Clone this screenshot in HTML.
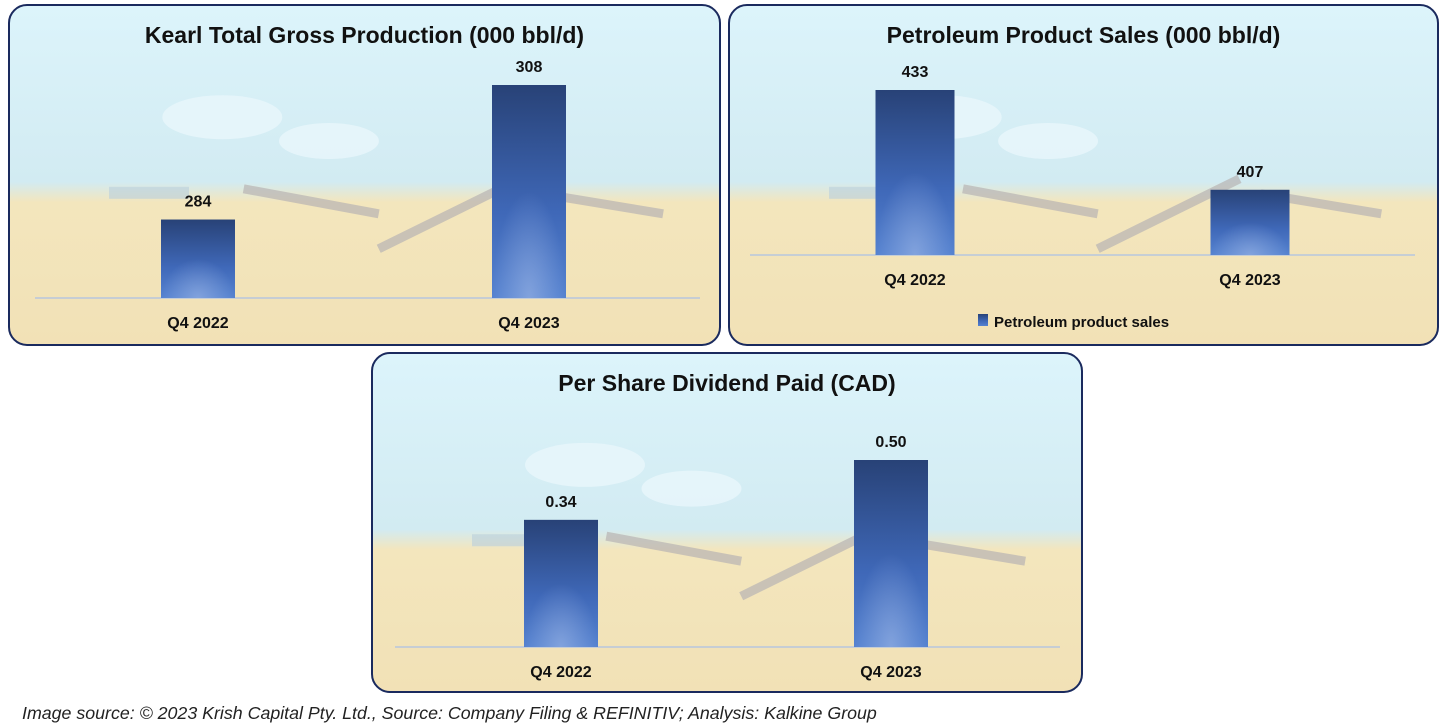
<!DOCTYPE html>
<html><head><meta charset="utf-8"><style>
body{margin:0;width:1445px;height:728px;background:#fff;position:relative;overflow:hidden;font-family:"Liberation Sans",Arial,sans-serif}
svg{position:absolute;left:0;top:0}
.foot{position:absolute;left:22px;top:703px;font-style:italic;font-size:17.8px;color:#222}
</style></head><body>
<svg id="chart" width="1445" height="700">
<defs>
<linearGradient id="bg" x1="0" y1="0" x2="0" y2="1">
<stop offset="0" stop-color="#dcf4fb"/><stop offset="0.52" stop-color="#d2ebf2"/><stop offset="0.58" stop-color="#f3e6bd"/><stop offset="1" stop-color="#f2e1b6"/></linearGradient>
<linearGradient id="bar" x1="0" y1="0" x2="0" y2="1">
<stop offset="0" stop-color="#284277"/><stop offset="0.6" stop-color="#3f68b8"/><stop offset="1" stop-color="#5582d0"/></linearGradient>
<radialGradient id="glow" cx="0.5" cy="1" r="0.5"><stop offset="0" stop-color="#9fb8e6" stop-opacity="0.6"/><stop offset="1" stop-color="#9fb8e6" stop-opacity="0"/></radialGradient>
</defs>
<g id="panels"></g>
</svg>
<div class="foot">Image source: © 2023 Krish Capital Pty. Ltd., Source: Company Filing &amp; REFINITIV; Analysis: Kalkine Group</div>
<script>
const categories = ["Q4 2022","Q4 2023"];
const kearlValues = [284,308];
const kearlLabels = ["284","308"];
const salesValues = [433,407];
const salesLabels = ["433","407"];
const dividendValues = [0.34,0.50];
const dividendLabels = ["0.34","0.50"];

const NS="http://www.w3.org/2000/svg";
const root=document.getElementById('panels');
function mk(tag,attrs,parent){const e=document.createElementNS(NS,tag);for(const k in attrs)e.setAttribute(k,attrs[k]);(parent||root).appendChild(e);return e;}
function panel(cfg){
  const g=mk('g',{});
  
  
  const r=mk('rect',{x:cfg.x,y:cfg.y,width:cfg.w,height:cfg.h,rx:18,fill:'url(#bg)',stroke:'#1a2a5e','stroke-width':2},g);
  
  
  const hz=cfg.y+cfg.h*0.57;
  mk('rect',{x:cfg.x+100,y:hz-12,width:80,height:12,fill:'#b9cfdc',opacity:0.6},g);
  mk('ellipse',{cx:cfg.x+cfg.w*0.3,cy:cfg.y+cfg.h*0.33,rx:60,ry:22,fill:'#e8f6fb',opacity:0.8},g);
  mk('ellipse',{cx:cfg.x+cfg.w*0.45,cy:cfg.y+cfg.h*0.4,rx:50,ry:18,fill:'#e8f6fb',opacity:0.8},g);
  mk('line',{x1:cfg.x+cfg.w*0.33,y1:hz-10,x2:cfg.x+cfg.w*0.52,y2:hz+15,stroke:'#b8b4b4','stroke-width':9,opacity:0.7},g);
  mk('line',{x1:cfg.x+cfg.w*0.52,y1:hz+50,x2:cfg.x+cfg.w*0.72,y2:hz-20,stroke:'#b8b4b4','stroke-width':9,opacity:0.7},g);
  mk('line',{x1:cfg.x+cfg.w*0.75,y1:hz-5,x2:cfg.x+cfg.w*0.92,y2:hz+15,stroke:'#b8b4b4','stroke-width':9,opacity:0.7},g);
  const t=mk('text',{x:cfg.x+cfg.w/2,y:cfg.y+38,'text-anchor':'middle','font-size':23,'font-weight':'bold',fill:'#111'},g);
  t.textContent=cfg.title;
  
  
  const yScale=v=>cfg.base-(v-cfg.min)/(cfg.max-cfg.min)*(cfg.base-cfg.top);
  const ax=mk('line',{x1:cfg.ax1,x2:cfg.ax2,y1:cfg.base,y2:cfg.base,stroke:'#b8c6de','stroke-width':1.5},g);
  
  
  cfg.values.forEach((v,i)=>{
    const cx=cfg.cx[i], y=yScale(v), bw=cfg.bw;
    const b=mk('rect',{x:cx-bw/2,y:y,width:bw,height:cfg.base-y,fill:'url(#bar)'},g);
    
    
    mk('rect',{x:cx-bw/2,y:y,width:bw,height:cfg.base-y,fill:'url(#glow)'},g);
    const vl=mk('text',{x:cx,y:y-13,'text-anchor':'middle','font-size':16,'font-weight':'bold',fill:'#111'},g);
    vl.textContent=cfg.labels[i];
    
    
    const cl=mk('text',{x:cx,y:cfg.base+30,'text-anchor':'middle','font-size':16,'font-weight':'bold',fill:'#111'},g);
    cl.textContent=categories[i];
    
    
  });
  if(cfg.legend){
    const lg=mk('g',{},g);
    
    
    mk('rect',{x:978,y:314,width:10,height:12,fill:'url(#bar)'},lg);
    const lt=mk('text',{x:994,y:327,'font-size':15,'font-weight':'bold',fill:'#111'},lg);
    lt.textContent=cfg.legend;
  }
}
panel({name:'kearl-production-chart',x:9,y:5,w:711,h:340,title:'Kearl Total Gross Production (000 bbl/d)',base:298,top:85,min:270,max:308,values:kearlValues,labels:kearlLabels,cx:[198,529],bw:74,ax1:35,ax2:700});
panel({name:'petroleum-sales-chart',x:729,y:5,w:709,h:340,title:'Petroleum Product Sales (000 bbl/d)',base:255,top:90,min:390,max:433,values:salesValues,labels:salesLabels,cx:[915,1250],bw:79,ax1:750,ax2:1415,legend:'Petroleum product sales'});
panel({name:'dividend-chart',x:372,y:353,w:710,h:339,title:'Per Share Dividend Paid (CAD)',base:647,top:460,min:0,max:0.5,values:dividendValues,labels:dividendLabels,cx:[561,891],bw:74,ax1:395,ax2:1060});
</script>
</body></html>
